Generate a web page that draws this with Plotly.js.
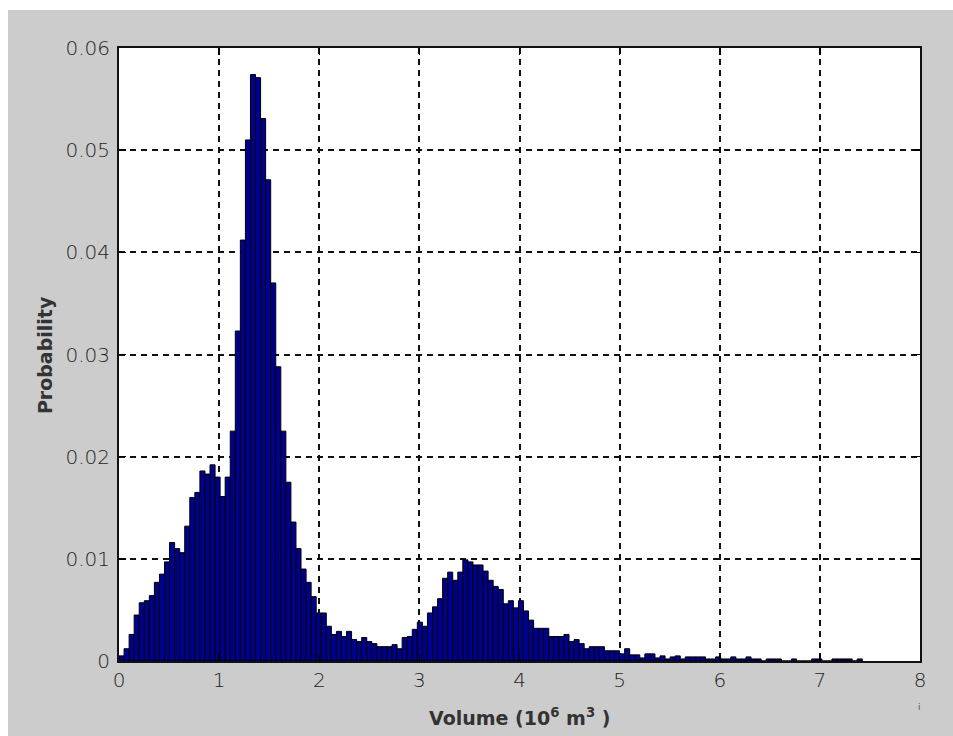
<!DOCTYPE html>
<html>
<head>
<meta charset="utf-8">
<script src="https://cdn.plot.ly/plotly-3.0.1.min.js"></script>
<style>
  html, body { margin: 0; padding: 0; background: #ffffff; }
  #chart { width: 953px; height: 736px; }
</style>
</head>
<body>
<div id="chart"></div>
<script>
// Histogram of volume: probability per bin, bins start at 0
const binStart = 0;
const binWidth = 0.0505;
const probability = [
  0.0005, 0.0012, 0.0026, 0.0045, 0.0057, 0.0059, 0.0064, 0.0077, 0.0085, 0.0097,
  0.0116, 0.0110, 0.0106, 0.0132, 0.0160, 0.0165, 0.0186, 0.0183, 0.0192, 0.0180,
  0.0161, 0.0180, 0.0225, 0.0323, 0.0412, 0.0510, 0.0574, 0.0571, 0.0531, 0.0471,
  0.0370, 0.0288, 0.0225, 0.0175, 0.0136, 0.0110, 0.0090, 0.0077, 0.0063, 0.0047,
  0.0047, 0.0034, 0.0026, 0.0029, 0.0024, 0.0029, 0.0021, 0.0019, 0.0023, 0.0019,
  0.0017, 0.0014, 0.0014, 0.0014, 0.0016, 0.0012, 0.0023, 0.0024, 0.0031, 0.0038,
  0.0034, 0.0047, 0.0053, 0.0061, 0.0081, 0.0087, 0.0079, 0.0087, 0.0099, 0.0097,
  0.0094, 0.0094, 0.0088, 0.0079, 0.0073, 0.0070, 0.0056, 0.0059, 0.0052, 0.0059,
  0.0049, 0.0040, 0.0032, 0.0032, 0.0032, 0.0024, 0.0024, 0.0024, 0.0026, 0.0019,
  0.0021, 0.0017, 0.0012, 0.0014, 0.0014, 0.0014, 0.0010, 0.0010, 0.0010, 0.0007,
  0.0012, 0.0006, 0.0006, 0.0003, 0.0007, 0.0007, 0.0003, 0.0005, 0.0002, 0.0004,
  0.0005, 0.0002, 0.0004, 0.0004, 0.0004, 0.0004, 0.0002, 0.0002, 0.0004, 0.0002,
  0.0002, 0.0004, 0.0002, 0.0002, 0.0004, 0.0002, 0.0002, 0.0000, 0.0002, 0.0002,
  0.0002, 0.0000, 0.0000, 0.0002, 0.0000, 0.0000, 0.0000, 0.0002, 0.0002, 0.0000,
  0.0000, 0.0002, 0.0002, 0.0002, 0.0002, 0.0000, 0.0002
];

const xTicks = [0, 1, 2, 3, 4, 5, 6, 7, 8];
const xTickText = ['0', '1', '2', '3', '4', '5', '6', '7', '8'];
const yTicks = [0, 0.01, 0.02, 0.03, 0.04, 0.05, 0.06];
const yTickText = ['0', '0.01', '0.02', '0.03', '0.04', '0.05', '0.06'];

const xTitle = 'Volume (10<sup>6</sup> m<sup>3</sup> )';
const yTitle = 'Probability';

const trace = {
  type: 'bar',
  y: probability,
  x0: binStart + binWidth / 2,
  dx: binWidth,
  width: binWidth,
  marker: {
    color: '#00008f',
    line: { color: '#000000', width: 1 }
  },
  hoverinfo: 'x+y'
};

const tickFont = { family: 'DejaVu Sans, sans-serif', size: 20, color: '#1e1e1e', weight: 300 };
const titleFont = { family: 'DejaVu Sans, sans-serif', size: 19, color: '#333333', weight: 'bold' };

const axisCommon = {
  showline: true,
  linecolor: '#111111',
  linewidth: 2,
  mirror: 'ticks',
  ticks: 'inside',
  ticklen: 7,
  tickwidth: 1.5,
  tickcolor: '#000000',
  showgrid: true,
  gridcolor: '#111111',
  gridwidth: 2,
  griddash: '6px,5px',
  zeroline: false,
  tickfont: tickFont,
  fixedrange: true
};

const layout = {
  width: 953,
  height: 736,
  margin: { l: 119, r: 33, t: 48, b: 75 },
  paper_bgcolor: '#cccccc',
  plot_bgcolor: '#ffffff',
  bargap: 0,
  showlegend: false,
  xaxis: Object.assign({}, axisCommon, {
    range: [0, 8],
    tickmode: 'array',
    tickvals: xTicks,
    ticktext: xTickText
  }),
  yaxis: Object.assign({}, axisCommon, {
    range: [0, 0.06],
    tickmode: 'array',
    tickvals: yTicks,
    ticktext: yTickText,
    ticklabelstandoff: 3
  }),
  shapes: [
    // white strips along the top and left edges of the figure window
    { type: 'rect', xref: 'paper', yref: 'paper', layer: 'below',
      x0: -119 / 801, x1: 834 / 801, y0: 651 / 613, y1: 661 / 613,
      fillcolor: '#ffffff', line: { width: 0 } },
    { type: 'rect', xref: 'paper', yref: 'paper', layer: 'below',
      x0: -119 / 801, x1: -111 / 801, y0: -75 / 613, y1: 661 / 613,
      fillcolor: '#ffffff', line: { width: 0 } }
  ],
  annotations: [
    { text: xTitle, xref: 'paper', yref: 'paper', x: 0.5, y: 0,
      xanchor: 'center', yanchor: 'middle', yshift: -56, showarrow: false,
      font: titleFont },
    { text: yTitle, xref: 'paper', yref: 'paper', x: 0, y: 0.499,
      xanchor: 'center', yanchor: 'middle', xshift: -74, textangle: -90,
      showarrow: false, font: titleFont },
    { text: 'i', xref: 'paper', yref: 'paper', x: 1, y: 0,
      xanchor: 'center', yanchor: 'middle', xshift: -1, yshift: -46,
      showarrow: false, font: { family: 'DejaVu Sans, sans-serif', size: 9, color: '#555555' } }
  ]
};

Plotly.newPlot('chart', [trace], layout, { staticPlot: true, displayModeBar: false });
</script>
</body>
</html>
